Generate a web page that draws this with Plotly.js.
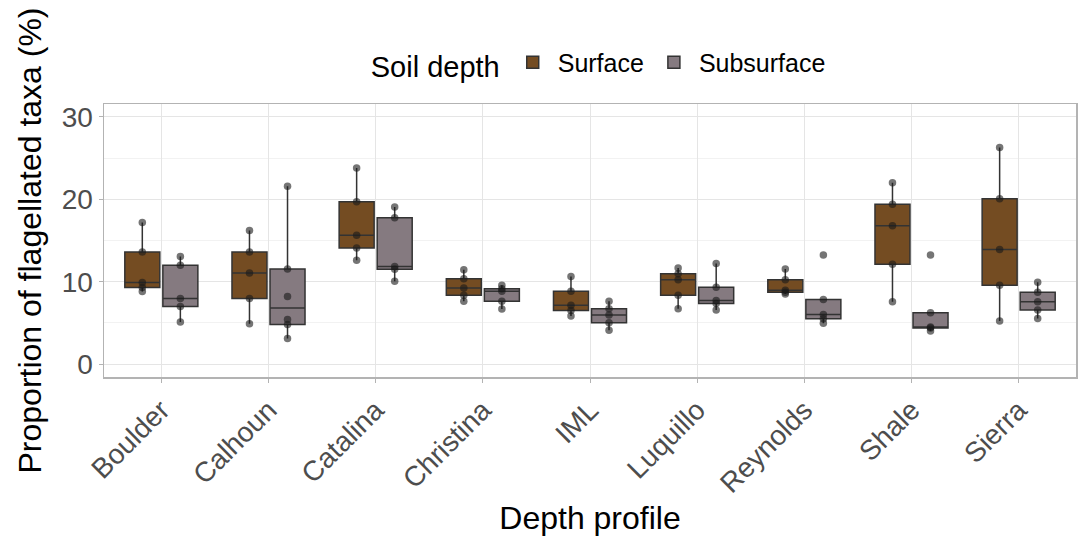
<!DOCTYPE html>
<html>
<head>
<meta charset="utf-8">
<script src="https://cdn.plot.ly/plotly-3.0.1.min.js"></script>
<style>html,body{margin:0;padding:0;background:#fff;}#chart{width:1078px;height:536px;}</style>
</head>
<body>
<div id="chart"></div>
<script>
const sites = ["Boulder","Calhoun","Catalina","Christina","IML","Luquillo","Reynolds","Shale","Sierra"];
const surface = {
  Boulder:   [8.8, 9.3, 9.9, 13.6, 17.2],
  Calhoun:   [4.9, 7.95, 11.05, 13.6, 16.2],
  Catalina:  [12.6, 14.1, 15.65, 19.7, 23.8],
  Christina: [7.63, 8.35, 9.23, 10.35, 11.45],
  IML:       [5.82, 6.5, 7.15, 8.83, 10.64],
  Luquillo:  [6.7, 8.35, 10.24, 10.96, 11.65],
  Reynolds:  [8.51, 8.72, 8.96, 10.24, 11.53],
  Shale:     [7.55, 12.13, 16.79, 19.4, 22.0],
  Sierra:    [5.22, 9.56, 13.9, 20.08, 26.3]
};
const subsurface = {
  Boulder:   [5.1, 7.0, 7.95, 12.0, 13.05],
  Calhoun:   [3.1, 4.8, 5.4, 8.2, 11.55, 21.6],
  Catalina:  [10.05, 11.5, 11.85, 17.75, 19.07],
  Christina: [6.67, 7.63, 8.83, 9.15, 9.56],
  IML:       [4.1, 5.02, 5.95, 6.7, 7.63],
  Luquillo:  [6.55, 7.35, 7.71, 9.32, 12.2],
  Reynolds:  [4.94, 5.5, 6.02, 7.83, 13.25],
  Shale:     [4.02, 4.38, 4.5, 6.22, 13.25],
  Sierra:    [5.54, 6.55, 7.55, 8.72, 9.92]
};
const yTicks = [0, 10, 20, 30];

function flatten(obj) {
  const x = [], y = [];
  sites.forEach(s => obj[s].forEach(v => { x.push(s); y.push(v); }));
  return {x, y};
}
const sf = flatten(surface), ss = flatten(subsurface);
const common = {
  type: 'box', boxpoints: 'all', jitter: 0, pointpos: 0,
  quartilemethod: 'inclusive',
  line: {color: '#333333', width: 1.5},
  marker: {color: 'rgba(25,25,25,0.6)', size: 7.5},
  whiskerwidth: 0, hoverinfo: 'y'
};
const traces = [
  Object.assign({}, common, {name: 'Surface', x: sf.x, y: sf.y, fillcolor: '#744c22'}),
  Object.assign({}, common, {name: 'Subsurface', x: ss.x, y: ss.y, fillcolor: '#857a80'})
];
const layout = {
  width: 1078, height: 536,
  margin: {l: 104, r: 2, t: 104, b: 159},
  paper_bgcolor: '#fff', plot_bgcolor: '#fff',
  font: {family: 'Liberation Sans, Arial, sans-serif', color: '#000'},
  boxmode: 'group', boxgap: 0.29, boxgroupgap: 0.08,
  showlegend: true,
  legend: {
    orientation: 'h', x: 0.51, xanchor: 'center', y: 1.148, yanchor: 'middle',
    title: {text: 'Soil depth', side: 'left', font: {size: 29, color: '#000'}},
    font: {size: 25, color: '#000'}, itemwidth: 40
  },
  xaxis: {
    type: 'category', categoryorder: 'array', categoryarray: sites,
    tickangle: -45, tickfont: {size: 28, color: '#4d4d4d'},
    ticks: 'outside', ticklen: 4, tickcolor: '#b3b3b3',
    showgrid: true, gridcolor: '#e5e5e5', gridwidth: 1,
    showline: true, linecolor: '#b3b3b3', linewidth: 1.5, mirror: true,
    title: {text: 'Depth profile', font: {size: 32, color: '#000'}, standoff: 10},
    zeroline: false
  },
  yaxis: {
    range: [-1.57, 31.57], tickvals: yTicks, ticktext: yTicks.map(String),
    tickfont: {size: 28, color: '#4d4d4d'},
    ticks: 'outside', ticklen: 4, tickcolor: '#b3b3b3',
    showgrid: true, gridcolor: '#e5e5e5', gridwidth: 1,
    minor: {tickvals: [5, 15, 25], showgrid: true, gridcolor: '#f2f2f2', gridwidth: 1, ticks: ''},
    showline: true, linecolor: '#b3b3b3', linewidth: 1.5, mirror: true,
    zeroline: false,
    title: {text: 'Proportion of flagellated taxa (%)', font: {size: 32, color: '#000'}, standoff: 10}
  }
};
Plotly.newPlot('chart', traces, layout, {displayModeBar: false, staticPlot: true});
</script>
</body>
</html>
